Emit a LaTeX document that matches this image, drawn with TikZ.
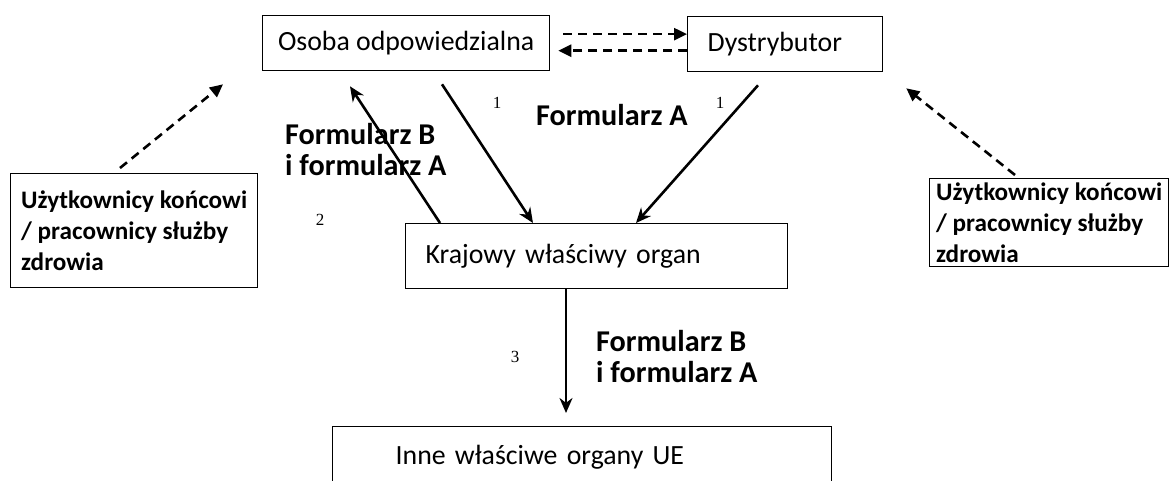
\documentclass[tikz,border=0pt]{standalone}
\usepackage{fontspec}
\setmainfont{Carlito}
\newfontfamily\numfont{Liberation Serif}
\usetikzlibrary{arrows.meta}
\begin{document}
\begin{tikzpicture}
[
  x=1pt, y=-1pt,
  box/.style = {draw, line width=1.3pt, anchor=north west, inner sep=0pt,
    font=\fontsize{27.8}{33}\selectfont},
  userbox/.style = {box, align=left, font=\fontsize{25.2}{31}\selectfont\bfseries},
  label/.style = {anchor=west, inner sep=0pt, align=left,
    font=\fontsize{30.2}{31}\selectfont\bfseries},
  num/.style = {inner sep=0pt, font=\fontsize{17}{20}\selectfont\numfont},
  flow/.style = {line width=2.6pt, -{Stealth[length=15pt,width=13pt]}},
  dflow/.style = {line width=2.6pt, dash pattern=on 9pt off 6pt,
    -{Triangle[length=13pt,width=12pt]}},
]
\clip (0,0) rectangle (1170,481);

%boxes
\node[box, minimum width=287pt, minimum height=55pt] (osoba) at (262,15) {Osoba odpowiedzialna};
\node[box, minimum width=195pt, minimum height=55pt, text width=155pt, inner xsep=20pt, align=left] (dystr) at (687,16) {\mbox{Dystrybutor}};
\node[box, minimum height=65pt, text width=342pt, inner xsep=20pt, align=left] (kraj) at (405,223) {\mbox{Krajowy właściwy organ}};
\node[box, minimum height=62pt, text width=373pt, inner xsep=63pt, align=left] (inne) at (332,426) {\mbox{Inne właściwe organy UE}};
\node[userbox, minimum width=247pt, minimum height=114pt] (userL) at (10,173) {Użytkownicy końcowi\\/ pracownicy służby\\zdrowia};
\node[userbox, minimum width=239pt, minimum height=88pt] (userR) at (929,178) {Użytkownicy końcowi\\/ pracownicy służby\\zdrowia};

%labels
\node[label] (lblB) at (285,150) {Formularz B\\i formularz A};
\node[label] (lblA) at (536,115) {Formularz A};
\node[label] (lblC) at (596,357) {Formularz B\\i formularz A};
\node[num] (n1a) at (497,103) {1};
\node[num] (n1b) at (720,103) {1};
\node[num] (n2) at (320,220) {2};
\node[num] (n3) at (515,357) {3};

%dashed links
\draw[dflow] ([xshift=13pt,yshift=9pt]osoba.east) -- ([yshift=10pt]dystr.west);
\draw[dflow] ([yshift=-6.5pt]dystr.west) -- ([xshift=8pt,yshift=-7.5pt]osoba.east);
\draw[dflow] ([xshift=110pt,yshift=5pt]userL.north west) -- ([xshift=-39pt,yshift=-13pt]osoba.south west);
\draw[dflow] ([xshift=86pt,yshift=3pt]userR.north west) -- ([xshift=23pt,yshift=-16pt]dystr.south east);

%solid links
\draw[flow] ([xshift=180pt,yshift=-13pt]osoba.south west) -- ([xshift=128pt]kraj.north west);
\draw[flow] ([xshift=35pt]kraj.north west) -- ([xshift=88pt,yshift=-15pt]osoba.south west);
\draw[flow] ([xshift=71pt,yshift=-13pt]dystr.south west) -- ([xshift=231pt]kraj.north west);
\draw[flow] ([xshift=161pt]kraj.south west) -- ([xshift=234pt,yshift=13pt]inne.north west);
\end{tikzpicture}
\end{document}
